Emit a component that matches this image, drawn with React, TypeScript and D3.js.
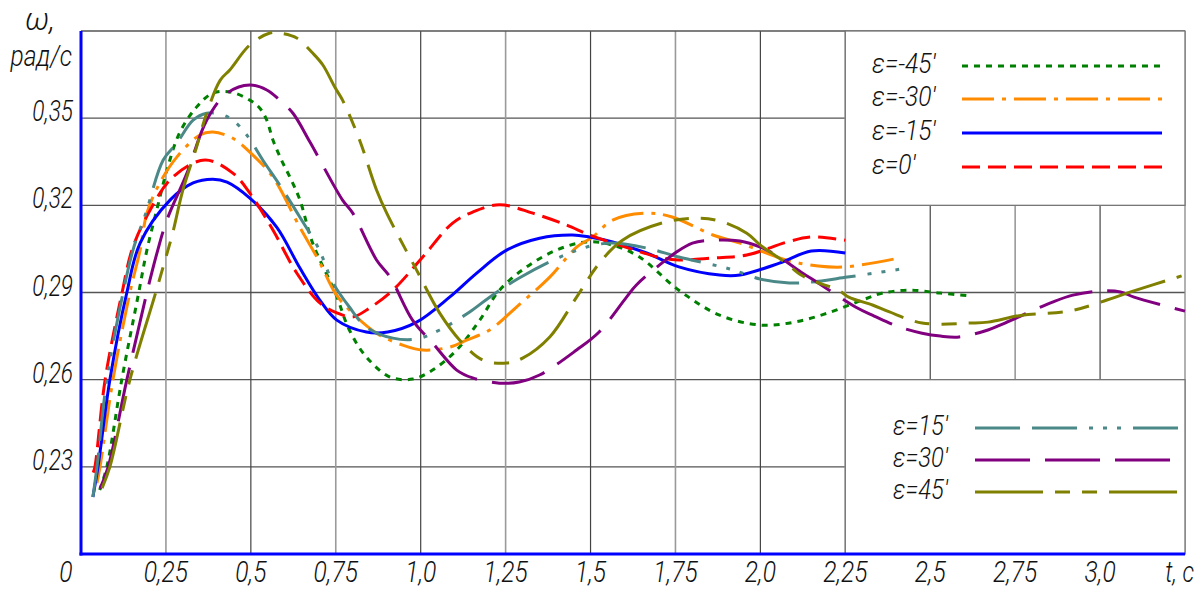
import React from "react";
import * as d3 from "d3";

type Pt = [number, number];

// t (s), omega (rad/s)
const epsM45: Pt[] = [[0.055,0.222],[0.076,0.23],[0.12,0.26],[0.17,0.29],[0.194,0.3046],[0.223,0.3184],[0.253,0.3321],[0.29,0.3449],[0.34,0.3538],[0.388,0.3586],[0.44,0.359],[0.497,0.3562],[0.526,0.3535],[0.547,0.3493],[0.565,0.3425],[0.59,0.3356],[0.615,0.3297],[0.644,0.322],[0.682,0.307],[0.75,0.2895],[0.79,0.2771],[0.84,0.2678],[0.91,0.2609],[0.976,0.2602],[1.035,0.2633],[1.106,0.2702],[1.174,0.2805],[1.232,0.2908],[1.312,0.2988],[1.4,0.3046],[1.488,0.3074],[1.565,0.3063],[1.644,0.3022],[1.76,0.2908],[1.88,0.2822],[2.0,0.2788],[2.1,0.2798],[2.2,0.283],[2.3,0.2874],[2.36,0.2898],[2.44,0.2908],[2.53,0.2898],[2.62,0.2888]];
const epsM30: Pt[] = [[0.047,0.2244],[0.056,0.23],[0.094,0.26],[0.144,0.29],[0.174,0.3046],[0.194,0.3173],[0.232,0.3277],[0.282,0.3366],[0.35,0.3442],[0.388,0.3452],[0.447,0.3431],[0.497,0.3383],[0.565,0.3297],[0.644,0.3125],[0.7,0.301],[0.75,0.2895],[0.79,0.284],[0.87,0.276],[0.947,0.2719],[1.006,0.2702],[1.085,0.2712],[1.135,0.2736],[1.203,0.2771],[1.282,0.285],[1.38,0.2953],[1.459,0.3056],[1.506,0.3091],[1.565,0.3149],[1.665,0.3173],[1.74,0.316],[1.86,0.3098],[1.94,0.307],[2.076,0.3012],[2.17,0.2991],[2.25,0.2988],[2.41,0.3019]];
const epsM15: Pt[] = [[0.035,0.2196],[0.05,0.23],[0.085,0.26],[0.135,0.29],[0.174,0.307],[0.262,0.3218],[0.33,0.3277],[0.388,0.329],[0.43,0.328],[0.497,0.3225],[0.576,0.3125],[0.644,0.2985],[0.703,0.2874],[0.753,0.2805],[0.84,0.2764],[0.903,0.2764],[0.988,0.2798],[1.085,0.2884],[1.165,0.2967],[1.253,0.3046],[1.35,0.3087],[1.447,0.3098],[1.497,0.3091],[1.565,0.3074],[1.665,0.3036],[1.76,0.2988],[1.88,0.296],[1.94,0.296],[2.056,0.3001],[2.15,0.3043],[2.25,0.3036]];
const eps0: Pt[] = [[0.036,0.228],[0.041,0.23],[0.071,0.26],[0.121,0.29],[0.15,0.3046],[0.194,0.3163],[0.27,0.3297],[0.365,0.3356],[0.447,0.3311],[0.497,0.3242],[0.565,0.3115],[0.635,0.2967],[0.703,0.2864],[0.753,0.283],[0.8,0.2816],[0.85,0.2847],[0.918,0.2908],[1.006,0.3022],[1.094,0.3139],[1.153,0.3177],[1.232,0.3202],[1.33,0.3173],[1.43,0.3132],[1.497,0.3098],[1.585,0.3063],[1.71,0.3019],[1.76,0.3012],[1.86,0.3019],[1.96,0.3029],[2.08,0.3074],[2.15,0.3091],[2.25,0.308]];
const eps15: Pt[] = [[0.035,0.2196],[0.047,0.23],[0.076,0.26],[0.124,0.29],[0.153,0.3046],[0.19,0.317],[0.242,0.3356],[0.282,0.3414],[0.33,0.3493],[0.37,0.3517],[0.41,0.3514],[0.447,0.3493],[0.488,0.3442],[0.535,0.3356],[0.585,0.327],[0.644,0.316],[0.7,0.305],[0.741,0.2935],[0.79,0.285],[0.84,0.2781],[0.918,0.2743],[0.988,0.274],[1.056,0.2771],[1.144,0.2833],[1.203,0.2884],[1.29,0.295],[1.41,0.3022],[1.5,0.306],[1.565,0.307],[1.665,0.3053],[1.76,0.3022],[1.91,0.2981],[2.0,0.2946],[2.085,0.2933],[2.15,0.2936],[2.256,0.2953],[2.41,0.298]];
const eps30: Pt[] = [[0.056,0.2225],[0.08,0.23],[0.135,0.26],[0.194,0.29],[0.226,0.3046],[0.253,0.315],[0.312,0.3311],[0.37,0.3493],[0.43,0.3586],[0.497,0.3614],[0.547,0.3597],[0.585,0.3562],[0.624,0.3517],[0.674,0.3418],[0.77,0.3218],[0.8,0.3173],[0.87,0.3012],[0.91,0.2953],[0.976,0.2805],[1.035,0.2726],[1.106,0.2633],[1.153,0.2606],[1.232,0.2588],[1.29,0.2592],[1.35,0.2616],[1.459,0.2702],[1.526,0.2765],[1.606,0.2884],[1.635,0.2926],[1.753,0.3039],[1.8,0.307],[1.86,0.308],[1.94,0.3077],[2.0,0.3056],[2.056,0.3022],[2.12,0.297],[2.17,0.2933],[2.28,0.285],[2.335,0.2819],[2.41,0.2781],[2.476,0.276],[2.53,0.275],[2.585,0.2747],[2.67,0.2771],[2.72,0.2795],[2.86,0.2867],[2.92,0.2891],[3.0,0.2905],[3.06,0.2902],[3.1,0.2884],[3.25,0.2836]];
const eps45: Pt[] = [[0.062,0.2227],[0.085,0.23],[0.144,0.26],[0.22,0.29],[0.256,0.3046],[0.27,0.3105],[0.3,0.3253],[0.34,0.34],[0.37,0.3517],[0.41,0.3631],[0.438,0.3666],[0.497,0.3752],[0.556,0.3793],[0.585,0.3793],[0.635,0.3776],[0.682,0.3724],[0.712,0.3683],[0.747,0.3607],[0.77,0.3562],[0.82,0.3425],[0.87,0.3253],[0.9,0.3173],[0.988,0.2977],[1.056,0.2829],[1.115,0.2736],[1.182,0.2668],[1.253,0.2657],[1.3,0.2674],[1.38,0.2747],[1.459,0.2884],[1.526,0.3001],[1.594,0.308],[1.71,0.3139],[1.81,0.3156],[1.88,0.3146],[1.96,0.3104],[2.0,0.3063],[2.076,0.3001],[2.12,0.296],[2.165,0.2936],[2.23,0.2908],[2.26,0.2884],[2.33,0.2857],[2.38,0.2833],[2.476,0.2795],[2.62,0.2795],[2.67,0.2798],[2.77,0.2822],[2.91,0.2836],[3.02,0.2874],[3.09,0.2902],[3.24,0.2957]];

const yTicks = [0.23, 0.26, 0.29, 0.32, 0.35];
const yTickLabels = ["0,23", "0,26", "0,29", "0,32", "0,35"];
const xTicks = [0.25, 0.5, 0.75, 1.0, 1.25, 1.5, 1.75, 2.0, 2.25, 2.5, 2.75, 3.0];
const xTickLabels = ["0,25", "0,5", "0,75", "1,0", "1,25", "1,5", "1,75", "2,0", "2,25", "2,5", "2,75", "3,0"];

const seriesNames = ["ε=-45′", "ε=-30′", "ε=-15′", "ε=0′", "ε=15′", "ε=30′", "ε=45′"];
const seriesData = [epsM45, epsM30, epsM15, eps0, eps15, eps30, eps45];
const seriesColors = ["#008000", "#ff8c00", "#0000ff", "#ff0000", "#4b8888", "#800080", "#808000"];
const seriesDash = ["6,6", "32,8,4,8", "", "18,8", "45,12,45,12,4,10,4,10,4,12", "55,15", "68,12,15,12,15,12"];

const W = 1198, H = 589;
const FONT = "Roboto, 'DejaVu Sans', sans-serif";

function T(props: { x: number; y: number; size: number; anchor?: "start" | "middle" | "end"; sx?: number; children: React.ReactNode }) {
  const { x, y, size, anchor = "start", sx = 0.78, children } = props;
  return (
    <text transform={`translate(${x},${y}) scale(${sx},1)`} textAnchor={anchor} fontSize={size}
      fontFamily={FONT} fontStyle="italic" fontWeight={300} fill="#111">{children}</text>
  );
}

export default function App() {
  const x = d3.scaleLinear().domain([0, 3.25]).range([81, 1185]);
  const y = d3.scaleLinear().domain([0.2, 0.38]).range([554, 31]);
  const line = d3.line<Pt>().x(d => x(d[0])).y(d => y(d[1])).curve(d3.curveCatmullRom.alpha(0.5));

  const x0 = x(0), x1 = x(3.25), yTop = y(0.38), yBot = y(0.2);
  const boxL = x(2.25);

  const topRows = [0, 1, 2, 3];
  const topRowY = [66, 99, 133, 167];
  const botRows = [4, 5, 6];
  const botRowY = [428, 460, 492];

  return (
    <div style={{ position: "absolute", left: 0, top: 0 }}>
      <svg width={W} height={H} viewBox={`0 0 ${W} ${H}`} style={{ display: "block", background: "#fff" }}>
        {/* grid */}
        {yTicks.map(v => (
          <line key={"gy" + v} x1={x0} x2={x1} y1={y(v)} y2={y(v)} stroke="#555" strokeWidth={1.3} />
        ))}
        {xTicks.map((t, i) => (
          <line key={"gx" + t} x1={x(t)} x2={x(t)} y1={yTop} y2={yBot} stroke={i % 2 === 0 ? "#9a9a9a" : "#444"} strokeWidth={i % 2 === 0 ? 1.6 : 1.2} />
        ))}
        <line x1={x0} x2={x1} y1={yTop} y2={yTop} stroke="#555" strokeWidth={1.3} />
        <line x1={x1} x2={x1} y1={yTop} y2={yBot} stroke="#888" strokeWidth={1.3} />

        {/* legend boxes */}
        <rect x={boxL} y={yTop} width={x1 - boxL} height={y(0.32) - yTop} fill="#fff" stroke="#777" strokeWidth={1.3} />
        <rect x={boxL} y={y(0.26)} width={x1 - boxL} height={yBot - y(0.26)} fill="#fff" stroke="#777" strokeWidth={1.3} />

        {/* curves */}
        {seriesData.map((d, i) => (
          <path key={"s" + i} d={line(d) || ""} fill="none" stroke={seriesColors[i]} strokeWidth={3}
            strokeDasharray={seriesDash[i] || undefined} strokeLinejoin="round" />
        ))}

        {/* legend contents */}
        {topRows.map((si, k) => (
          <g key={"lt" + si}>
            <T x={872} y={topRowY[k] + 7} size={28} sx={0.88}>{seriesNames[si]}</T>
            <line x1={962} x2={1162} y1={topRowY[k]} y2={topRowY[k]} stroke={seriesColors[si]} strokeWidth={3}
              strokeDasharray={seriesDash[si] || undefined} />
          </g>
        ))}
        {botRows.map((si, k) => (
          <g key={"lb" + si}>
            <T x={893} y={botRowY[k] + 7} size={28} sx={0.85}>{seriesNames[si]}</T>
            <line x1={975} x2={1178} y1={botRowY[k]} y2={botRowY[k]} stroke={seriesColors[si]} strokeWidth={3}
              strokeDasharray={seriesDash[si] || undefined} />
          </g>
        ))}

        {/* axes */}
        <line x1={x0} x2={x0} y1={yTop} y2={yBot + 1.5} stroke="#0000ff" strokeWidth={3} />
        <line x1={x0 - 1.5} x2={x1} y1={yBot} y2={yBot} stroke="#0000ff" strokeWidth={3} />

        {/* tick labels */}
        {yTicks.map((v, i) => (
          <T key={"yl" + v} x={73} y={y(v) + 3} anchor="end" size={29} sx={0.78}>{yTickLabels[i]}</T>
        ))}
        {xTicks.map((t, i) => (
          <T key={"xl" + t} x={x(t)} y={582} anchor="middle" size={29} sx={0.85}>{xTickLabels[i]}</T>
        ))}
        <T x={66} y={582} anchor="middle" size={29} sx={0.85}>0</T>
        <T x={1194} y={582} anchor="end" size={29} sx={0.8}>t, c</T>
        <T x={40} y={30} anchor="middle" size={32} sx={0.95}>ω,</T>
        <T x={72} y={66} anchor="end" size={29} sx={0.85}>рад/с</T>
      </svg>
    </div>
  );
}
